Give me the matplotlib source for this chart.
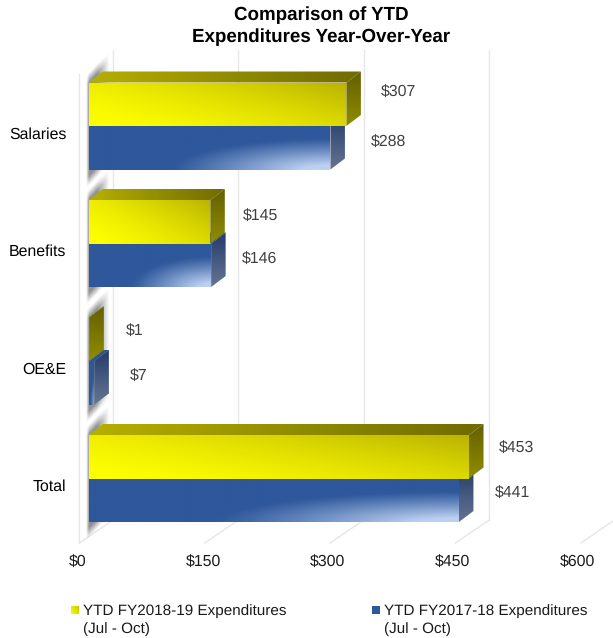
from matplotlib import pyplot as plt
from matplotlib.patches import Polygon
import numpy as np

categories = ["Salaries", "Benefits", "OE&E", "Total"]
fy2018_19 = [307, 145, 1, 453]
fy2017_18 = [288, 146, 7, 441]
tick_values = [0, 150, 300, 450, 600]
tick_labels = ["$0", "$150", "$300", "$450", "$600"]
series_names = ["YTD FY2018-19 Expenditures\n(Jul - Oct)", "YTD FY2017-18 Expenditures\n(Jul - Oct)"]

WIDTH, HEIGHT = 613, 638
PX_PER_DOLLAR = 0.84
PX_PER_CAT = 117.5
X_ZERO = 88.5
Y_ZERO = 126.0
BAR_H = 43.5 / PX_PER_CAT
DEPTH_X = 14.5 / PX_PER_DOLLAR
DEPTH_Y = 11.0 / PX_PER_CAT
GRID_SCALE = 0.995

# label nudges in pixels (right of bar end, above bar middle)
label_dx = [[34.5, 40.5], [32.5, 30.5], [36.5, 35.5], [30, 35.5]]
label_dy = [[12, 5.5], [5.5, 6], [8, 7], [9, 7]]

plt.rcParams["font.family"] = ["Liberation Sans", "DejaVu Sans"]
plt.rcParams["text.hinting"] = "no_hinting"


def to_x(px):
    return (px - X_ZERO) / PX_PER_DOLLAR


def to_y(px):
    return (px - Y_ZERO) / PX_PER_CAT


def mix(c0, c1, t):
    c0 = np.array(c0, dtype=float) / 255
    c1 = np.array(c1, dtype=float) / 255
    return c0 + (c1 - c0) * t[..., None]


def grid_uv(n=80):
    # u runs left to right, v runs top to bottom
    u, v = np.meshgrid(np.linspace(0, 1, n), np.linspace(0, 1, n))
    return u, v


def paint(ax, img, points, zorder):
    xs = [p[0] for p in points]
    ys = [p[1] for p in points]
    # image runs a little past the polygon so only the clip makes the edge
    pad_x, pad_y = 2 / PX_PER_DOLLAR, 2 / PX_PER_CAT
    im = ax.imshow(img, extent=(min(xs) - pad_x, max(xs) + pad_x, max(ys) + pad_y, min(ys) - pad_y), aspect="auto",
                   interpolation="bilinear", zorder=zorder)
    im.set_clip_path(Polygon(points, closed=True, transform=ax.transData))


def yellow_front():
    u, v = grid_uv()
    t = np.clip(0.6 * u + 0.4 * (1 - v), 0, 1) ** 1.5
    return mix((255, 255, 0), (182, 176, 0), t)


def blue_front():
    u, v = grid_uv(160)
    base = mix((46, 88, 155), (46, 88, 155), u)
    d = np.sqrt(((1 - u) / 0.66) ** 2 + ((1 - v) / 0.68) ** 2)
    glow = np.clip(np.clip(1 - d, 0, 1) ** 1.1 * 1.25, 0, 1)
    white = mix((188, 208, 242), (188, 208, 242), u)
    return base + (white - base) * glow[..., None]


def draw_box(ax, value, top, front_img, top_cols, side_cols, top_z, side_z, front_z):
    left, right = 0, value
    bottom = top + BAR_H
    top_face = [(left, top), (right, top), (right + DEPTH_X, top - DEPTH_Y), (left + DEPTH_X, top - DEPTH_Y)]
    side_face = [(right, top), (right + DEPTH_X, top - DEPTH_Y), (right + DEPTH_X, bottom - DEPTH_Y), (right, bottom)]
    front_face = [(left, top), (right, top), (right, bottom), (left, bottom)]
    u, v = grid_uv()
    paint(ax, mix(top_cols[0], top_cols[1], u), top_face, top_z)
    paint(ax, mix(side_cols[0], side_cols[1], v), side_face, side_z)
    paint(ax, front_img, front_face, front_z)


def draw_shadow(ax, top, bottom):
    # soft grey band leaning back from the left end of a category
    px_top = Y_ZERO + top * PX_PER_CAT
    px_bot = Y_ZERO + bottom * PX_PER_CAT
    xs = np.arange(-6, 24, 0.5)
    ys = np.arange(px_top - 34, px_bot + 20, 0.5)
    gx, gy = np.meshgrid(xs, ys)
    sheared = gy + gx * 1.05
    edge_top = np.clip((sheared - (px_top - 5)) / 10 + 0.5, 0, 1)
    edge_bot = np.clip(((px_bot + 11) - sheared) / 10 + 0.5, 0, 1)
    edge_left = np.clip((gx + 3) / 3, 0, 1)
    edge_right = np.clip((20 - gx) / 12, 0, 1)
    alpha = edge_top * edge_bot * edge_left * edge_right * 0.75
    img = np.ones(gx.shape + (4,)) * 0.42
    img[..., 3] = alpha
    ax.imshow(img, extent=(to_x(X_ZERO + xs[0]), to_x(X_ZERO + xs[-1]), to_y(ys[-1]), to_y(ys[0])),
              aspect="auto", interpolation="bilinear", zorder=2)


def main():
    fig = plt.figure(figsize=(WIDTH / 100, HEIGHT / 100), dpi=100)
    ax = fig.add_axes([0, 0, 1, 1])
    ax.set_xlim(to_x(0), to_x(WIDTH))
    ax.set_ylim(to_y(HEIGHT), to_y(0))
    ax.autoscale(False)
    ax.axis("off")

    # back wall lines and floor lines
    grid_color = "#e6e6e6"
    floor_y, back_y, wall_top = to_y(543), to_y(520), to_y(50)
    for value in tick_values:
        front = to_x(79.4) + value * GRID_SCALE
        back = to_x(113) + value * GRID_SCALE
        ax.plot([front, back], [floor_y, back_y], color=grid_color, lw=1, zorder=1)
        ax.plot([back, back], [back_y, wall_top], color=grid_color, lw=1, zorder=1)
    ax.plot([to_x(79.4)] * 2, [floor_y, to_y(74)], color=grid_color, lw=1, zorder=1)

    yellow_img = yellow_front()
    blue_img = blue_front()
    yellow_top, yellow_side = ((182, 176, 0), (112, 106, 0)), ((98, 94, 0), (146, 142, 0))
    blue_top, blue_side = ((48, 90, 160), (40, 78, 140)), ((34, 58, 104), (104, 118, 148))
    for i, name in enumerate(categories):
        top = i - BAR_H
        draw_shadow(ax, top, i + BAR_H)
        # the longer bar's end face goes on top of the shorter one
        yellow_z = 3.2 if fy2018_19[i] > fy2017_18[i] else 3.1
        blue_z = 3.1 if fy2018_19[i] > fy2017_18[i] else 3.2
        draw_box(ax, fy2017_18[i], i, blue_img, blue_top, blue_side, 2.9, blue_z, 4.1)
        draw_box(ax, fy2018_19[i], top, yellow_img, yellow_top, yellow_side, 3.0, yellow_z, 4.0)

        ax.text(to_x(66.5), to_y(Y_ZERO + i * PX_PER_CAT + 8.5), name, ha="right", va="center", fontsize=11.4,
                color="black", zorder=6)
        for j, value in enumerate([fy2018_19[i], fy2017_18[i]]):
            px_mid = Y_ZERO + (i - BAR_H * (0.5 - j)) * PX_PER_CAT
            ax.text(value + label_dx[i][j] / PX_PER_DOLLAR, to_y(px_mid - label_dy[i][j]), "${}".format(value),
                    ha="left", va="center", fontsize=11.4, color="#404040", zorder=6)

    for value, label in zip(tick_values, tick_labels):
        ax.text(to_x(78) + value * 0.992, to_y(562), label, ha="center", va="center", fontsize=11.4, color="#1a1a1a")

    fig.text(321.5 / WIDTH, 1 - 26 / HEIGHT, "Comparison of YTD\nExpenditures Year-Over-Year", ha="center", va="center",
             fontsize=13.5, fontweight="bold", color="black", linespacing=1.32)

    # legend entries
    solid_blue = np.ones((2, 2, 3)) * np.array([46 / 255, 88 / 255, 155 / 255])
    for name, img, swatch_x in zip(series_names, [yellow_img, solid_blue], [71, 372]):
        x0, x1 = to_x(swatch_x), to_x(swatch_x + 8)
        y0, y1 = to_y(606), to_y(614)
        paint(ax, img, [(x0, y0), (x1, y0), (x1, y1), (x0, y1)], 5)
        ax.text(to_x(swatch_x + 12), to_y(620), name, ha="left", va="center", fontsize=10.95, color="#1a1a1a",
                linespacing=1.3)

    fig.savefig("out.png", dpi=100)


if __name__ == "__main__":
    main()
